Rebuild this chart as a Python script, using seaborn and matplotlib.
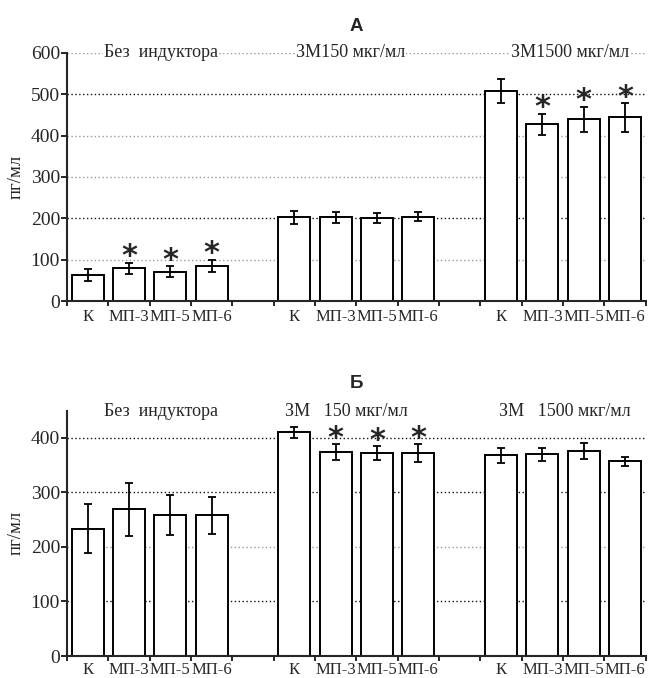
import pandas as pd
import matplotlib.pyplot as plt
import seaborn as sns
from matplotlib.ticker import FixedLocator

# categories and groups
bars = ['К', 'МП-3', 'МП-5', 'МП-6']
groups_a = ['Без  индуктора', 'ЗМ150 мкг/мл', 'ЗМ1500 мкг/мл']
groups_b = ['Без  индуктора', 'ЗМ   150 мкг/мл', 'ЗМ   1500 мкг/мл']

# panel А
a_means = [63, 79, 71, 85, 202, 202, 201, 204, 507, 427, 439, 444]
a_errs = [14, 14, 13, 15, 15, 13, 12, 11, 29, 26, 31, 35]
a_stars = [0, 1, 1, 1, 0, 0, 0, 0, 0, 1, 1, 1]

# panel Б
b_means = [233, 269, 258, 258, 410, 374, 372, 372, 368, 370, 376, 357]
b_errs = [45, 49, 37, 34, 10, 15, 13, 16, 14, 12, 15, 8]
b_stars = [0, 0, 0, 0, 0, 1, 1, 1, 0, 0, 0, 0]

# slot order: 4 bars per group, one empty slot between groups
order = []
for g in range(3):
    order += [f'g{g}_{b}' for b in bars]
    if g < 2:
        order.append(f'gap{g}')


def make_frame(means, errs, stars):
    slots = [f'g{g}_{b}' for g in range(3) for b in bars]
    return pd.DataFrame({'slot': slots, 'value': means, 'err': errs,
                         'star': stars,
                         'label': bars * 3})


def draw_panel(ax, df, ymax, yticks, grid_dark, title, group_names,
               label_pos, label_y, xpad):
    for t in yticks:
        col = '#111111' if t in grid_dark else '#9a9a9a'
        ax.axhline(t, color=col, ls=(0, (1.0, 1.8)), lw=1.0, zorder=0)
    sns.barplot(data=df, x='slot', y='value', order=order, color='white',
                saturation=1, edgecolor='black', linewidth=1.4, width=0.77,
                errorbar=None, ax=ax, zorder=2)
    pos = [order.index(s) for s in df['slot']]
    ax.errorbar(pos, df['value'], yerr=df['err'], fmt='none', ecolor='black',
                elinewidth=1.3, capsize=3, capthick=1.3, zorder=3)
    for p, v, e, s in zip(pos, df['value'], df['err'], df['star']):
        if s:
            ax.annotate('*', (p, v + e), xytext=(0, -2),
                        textcoords='offset points', ha='center',
                        va='baseline', fontsize=22, fontweight='bold',
                        family='DejaVu Sans', zorder=4)
    for name, x in zip(group_names, label_pos):
        ax.text(x, label_y, name, ha='center', va='center', fontsize=13,
                bbox=dict(facecolor='white', edgecolor='none', pad=0.5),
                zorder=3)
    ax.set_xlim(-0.5, len(order) - 0.5)
    ax.set_ylim(0, ymax)
    ax.set_yticks(yticks)
    ax.set_xticks(pos)
    ax.set_xticklabels(df['label'])
    ax.xaxis.set_minor_locator(FixedLocator([i - 0.5 for i in range(len(order) + 1)]))
    ax.tick_params(axis='x', which='major', length=0, pad=xpad, labelsize=12)
    ax.tick_params(axis='x', which='minor', length=3.5, width=1.4, direction='out')
    ax.tick_params(axis='y', length=4, width=1.4, direction='out', labelsize=14,
                   pad=1)
    ax.set_xlabel('')
    ax.set_ylabel('пг/мл', fontsize=13.5, labelpad=4)
    for side in ['left', 'bottom']:
        ax.spines[side].set_linewidth(1.5)
    sns.despine(ax=ax)
    ax.set_title(title, fontsize=13.5, fontweight='bold',
                 family='Liberation Sans', pad=16)


sns.set_style('ticks')
plt.rcParams['font.family'] = ['Liberation Serif', 'DejaVu Serif']

fig = plt.figure(figsize=(6.48, 6.78), dpi=100)
ax_a = fig.add_axes([0.1034, 0.556, 0.893, 0.366])
ax_b = fig.add_axes([0.1034, 0.0324, 0.893, 0.362])

draw_panel(ax_a, make_frame(a_means, a_errs, a_stars), 600,
           [0, 100, 200, 300, 400, 500, 600], [200, 500], 'А',
           groups_a, [1.77, 6.37, 11.67], 600, 6)
draw_panel(ax_b, make_frame(b_means, b_errs, b_stars), 450,
           [0, 100, 200, 300, 400], [100, 300, 400], 'Б',
           groups_b, [1.77, 6.25, 11.55], 448, 4.5)

fig.savefig('out.png', dpi=100)
